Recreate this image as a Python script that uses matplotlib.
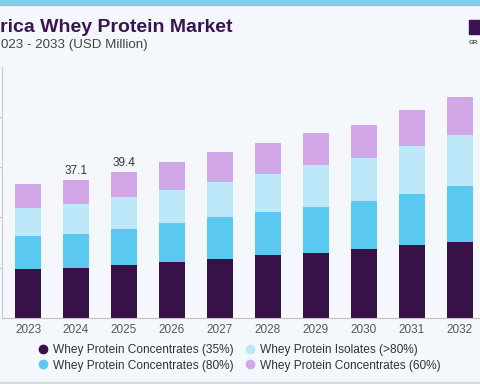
import matplotlib
matplotlib.use("Agg")
import matplotlib.pyplot as plt
from matplotlib.lines import Line2D
from matplotlib.patches import Rectangle

# ---- data ----
years = ["2023", "2024", "2025", "2026", "2027", "2028", "2029", "2030", "2031", "2032"]
conc35 = [13.2, 13.5, 14.3, 15.1, 16.0, 16.9, 17.6, 18.5, 19.6, 20.6]
conc80 = [8.9, 9.1, 9.7, 10.4, 11.1, 11.6, 12.4, 12.9, 13.9, 14.9]
isolates = [7.6, 8.1, 8.6, 9.1, 9.6, 10.4, 11.1, 11.6, 12.7, 13.7]
conc60 = [6.3, 6.4, 6.8, 7.3, 7.9, 8.2, 8.6, 9.1, 9.7, 10.3]
series_names = ["Whey Protein Concentrates (35%)", "Whey Protein Concentrates (80%)",
                "Whey Protein Isolates (>80%)", "Whey Protein Concentrates (60%)"]
annot_years = ["2024", "2025"]
annot_labels = ["37.1", "39.4"]
ytick_vals = [13.55, 27.1, 40.65, 54.2]
title_text = "rica Whey Protein Market"
subtitle_text = "023 - 2033 (USD Million)"

colors = ["#371148", "#5BC8F2", "#BDE8FA", "#D2A7E8"]
bg = "#F4F8FC"

fig = plt.figure(figsize=(4.8, 3.84), dpi=100, facecolor=bg)
W, H = 480, 384

# axes placement in pixels
left_px, right_px, top_px, base_px = 2, 480, 67, 318
ax = fig.add_axes([left_px / W, 1 - base_px / H, (right_px - left_px) / W, (base_px - top_px) / H])
ax.set_facecolor(bg)

x = list(range(len(years)))
series = [conc35, conc80, isolates, conc60]
bottom = [0.0] * len(years)
for vals, c in zip(series, colors):
    ax.bar(x, vals, width=0.54, bottom=bottom, color=c, edgecolor="none", zorder=2)
    bottom = [b + v for b, v in zip(bottom, vals)]

for yr, lab in zip(annot_years, annot_labels):
    i = years.index(yr)
    ax.text(i, bottom[i] + 0.8, lab, ha="center", va="bottom", fontsize=8.5,
            color="#333333", family="Liberation Sans")

ax.set_xlim(-0.542, 9.417)
ax.set_ylim(0, 67.6)
ax.set_xticks(x)
ax.set_xticklabels(years, fontsize=8.5, color="#555555", family="Liberation Sans")
ax.tick_params(axis="x", length=0, pad=4)
ax.set_yticks(ytick_vals)
ax.set_yticklabels([])
ax.tick_params(axis="y", length=3, color="#C8CCD2", direction="out")
for s in ["top", "right"]:
    ax.spines[s].set_visible(False)
ax.spines["left"].set_color("#C8CCD2")
ax.spines["bottom"].set_color("#BFC3C8")
ax.spines["left"].set_linewidth(0.8)
ax.spines["bottom"].set_linewidth(0.8)

# top stripe
fig.patches.append(Rectangle((0, 1 - 5 / H), 1, 5 / H, transform=fig.transFigure,
                             color="#86CDEB", zorder=0))
# bottom border
fig.patches.append(Rectangle((0, 0), 1, 2 / H, transform=fig.transFigure,
                             color="#D8DCE0", zorder=0))
# logo fragment
fig.patches.append(Rectangle((469 / W, 1 - 34 / H), 11 / W, 14 / H, transform=fig.transFigure,
                             color="#3A1450", zorder=1))
fig.text(469 / W, 1 - 42 / H, "GR", fontsize=4.5, color="#555555", weight="bold",
         va="center", ha="left", family="Liberation Sans")

# title & subtitle (visible part)
fig.text(0 / W, 1 - 27 / H, title_text, ha="left", va="center",
         fontsize=14, weight="bold", color="#3A1450", family="Liberation Sans")
fig.text(1 / W, 1 - 45 / H, subtitle_text, ha="left", va="center",
         fontsize=9.6, color="#444444", family="Liberation Sans")

handles = [Line2D([0], [0], marker="o", linestyle="none", markersize=6,
                  markerfacecolor=c, markeredgecolor=c) for c in colors]
fig.legend(handles, series_names, ncol=2, loc="upper left",
           bbox_to_anchor=(38 / W, 1 - 344 / H), frameon=False,
           prop={"family": "Liberation Sans", "size": 8.6},
           handlelength=0.8, handletextpad=0.45, columnspacing=0.95,
           labelspacing=0.3, borderaxespad=0, borderpad=0, labelcolor="#333333")

fig.savefig("out.png", dpi=100, facecolor=bg)
